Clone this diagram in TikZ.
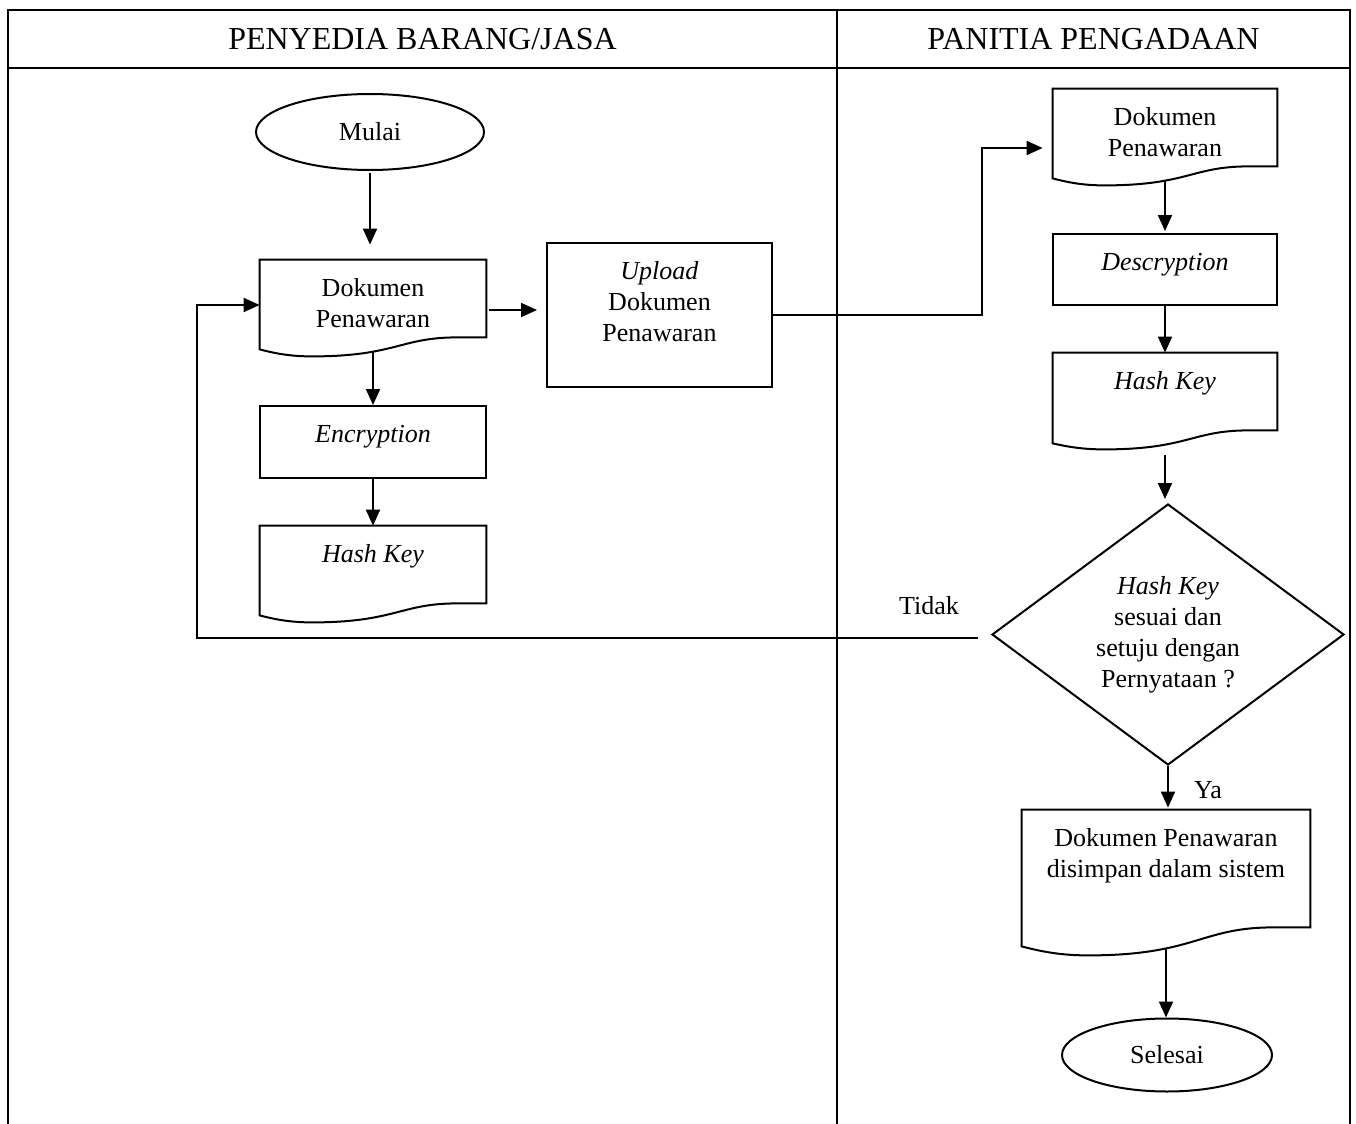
\documentclass[tikz,border=0pt]{standalone}
\usepackage{fontspec}
\setmainfont{Liberation Serif}
\usetikzlibrary{arrows.meta,shapes.geometric,calc}

% text box: width, height, content (top aligned)
\newcommand\bt[3]{\begin{minipage}[c][#2][t]{#1}\centering\vspace*{7.5pt}\strut #3\par\end{minipage}}

% document outline: node name, left drop, lowest drop
\newcommand\docoutline[3]{%
\draw[shp] let \p1=(#1.north west), \p2=(#1.south east), \n1={\x2-\x1} in
 (\x1,\y1) -- (\x2,\y1) -- (\x2,\y2) -- ({\x2-0.13*\n1},\y2)
 .. controls ({\x1+0.62*\n1},\y2) and ({\x1+0.6*\n1},{\y2-#3}) .. ({\x1+0.23*\n1},{\y2-#3})
 .. controls ({\x1+0.12*\n1},{\y2-#3}) and ({\x1+0.05*\n1},{\y2-#2-0.4*(#3-#2)}) .. (\x1,{\y2-#2}) -- cycle;}

\begin{document}
\begin{tikzpicture}[x=0.5pt,y=-0.5pt,
  font=\fontsize{13}{15.5}\selectfont,
  shp/.style={draw,line width=1pt,line join=miter},
  tb/.style={shp,rectangle,inner sep=0pt},
  doc/.style={rectangle,inner sep=0pt},
  term/.style={shp,ellipse,inner sep=0pt},
  dec/.style={shp,diamond,inner sep=0pt,align=center,aspect=1.35},
  ln/.style={line width=1pt},
  arr/.style={line width=1pt,-{Triangle[length=8pt,width=7pt]}},
  tbl/.style={line width=1.2pt},
  hdr/.style={font=\fontsize{16}{19}\selectfont}]

\useasboundingbox (0,0) rectangle (1356,1124);

% swimlane table
\draw[tbl] (8,1124) -- (8,10) -- (1350,10) -- (1350,1124);
\draw[tbl] (8,68) -- (1350,68);
\draw[tbl] (837,10) -- (837,1124);
\node[hdr] (h1) at (422.5,39) {PENYEDIA BARANG/JASA};
\node[hdr] (h2) at (1093.5,39) {PANITIA PENGADAAN};

% left lane
\node[term,minimum width=114pt,minimum height=38pt] (mulai) at (370,132) {Mulai};
\node[doc] (doc1) at (373,298.5) {\bt{113pt}{38.5pt}{Dokumen\\Penawaran}};
\docoutline{doc1}{6pt}{9.5pt}
\node[tb] (upload) at (659.5,315) {\bt{112.5pt}{72pt}{\textit{Upload}\\Dokumen\\Penawaran}};
\node[tb] (enc) at (373,442) {\bt{113pt}{36pt}{\textit{Encryption}}};
\node[doc] (hk1) at (373,564.5) {\bt{113pt}{38.5pt}{\textit{Hash Key}}};
\docoutline{hk1}{6pt}{9.5pt}

% right lane
\node[doc] (docR1) at (1165,127.5) {\bt{112pt}{38.5pt}{Dokumen\\Penawaran}};
\docoutline{docR1}{6pt}{9.5pt}
\node[tb] (desc) at (1165,269.5) {\bt{112pt}{35.5pt}{\textit{Descryption}}};
\node[doc] (hkR) at (1165,391.5) {\bt{112pt}{38.5pt}{\textit{Hash Key}}};
\docoutline{hkR}{6.5pt}{9.5pt}
\node[dec,minimum width=176pt,minimum height=130.5pt] (dia) at (1168,634.5)
  {\textit{Hash Key}\\sesuai dan\\setuju dengan\\Pernyataan ?};
\node[doc] (fin) at (1166,868.5) {\bt{144pt}{58.5pt}{Dokumen Penawaran\\disimpan dalam sistem}};
\docoutline{fin}{9.5pt}{14pt}
\node[term,minimum width=105pt,minimum height=36.5pt] (sel) at (1167,1055) {Selesai};

% labels
\node (tidak) at (929,606) {Tidak};
\node (ya) at (1208,790) {Ya};

% connectors
\draw[arr,shorten <=1pt,shorten >=7.5pt] (mulai.south) -- (mulai.south |- doc1.north);
\draw[arr] ([yshift=-7.5pt]doc1.south) -- (enc.north);
\draw[arr] (enc.south) -- (hk1.north);
\draw[arr,shorten <=1.5pt,shorten >=4.5pt] ([yshift=-5.75pt]doc1.east) -- ([yshift=-5.75pt]doc1.east -| upload.west);
\draw[arr,shorten >=5pt] (upload.east) -- ++(209,0) |- ([yshift=-10.25pt]docR1.west);
\draw[arr,shorten >=1pt] ([yshift=-7.5pt]docR1.south) -- (desc.north);
\draw[arr] (desc.south) -- (hkR.north);
\draw[arr,shorten <=12.5pt,shorten >=2pt] (hkR.south) -- (hkR.south |- dia.north);
\draw[arr,shorten >=1pt] (dia.south) -- (dia.south |- fin.north);
\draw[arr,shorten <=11pt] (fin.south) -- (fin.south |- sel.north);
\coordinate (fbs) at (978,638);
\coordinate (fbc) at (197,638);
\draw[arr] (fbs) -- (fbc) |- ([yshift=-3.25pt]doc1.west);
\end{tikzpicture}
\end{document}
